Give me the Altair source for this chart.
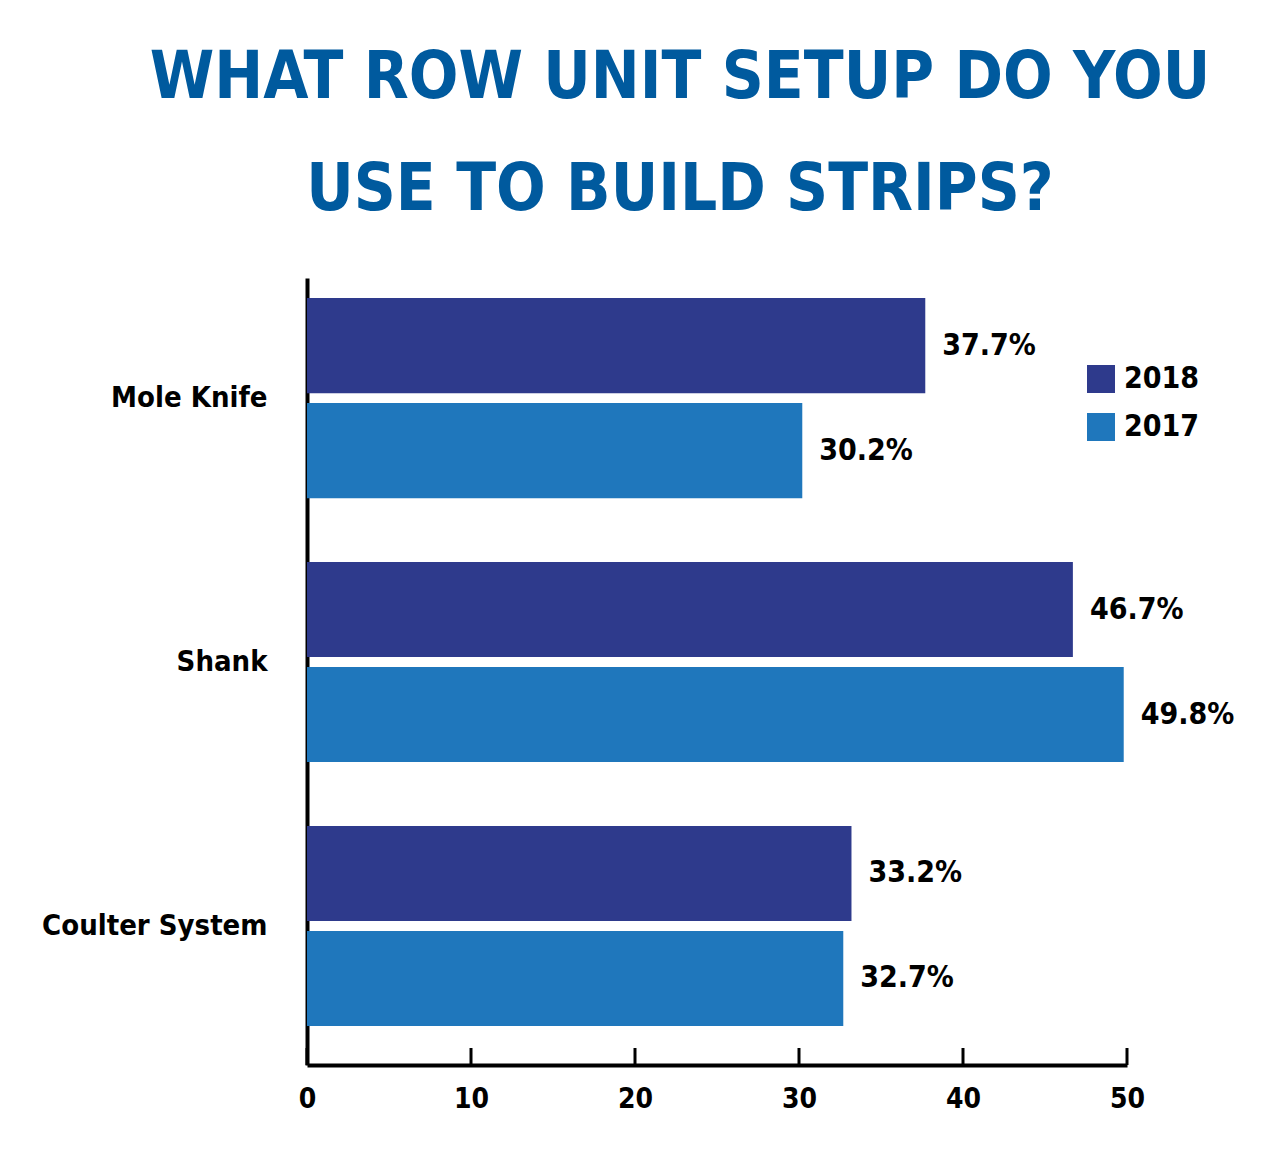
import altair as alt
import pandas as pd

# survey answers, percent of respondents
categories = ["Mole Knife", "Shank", "Coulter System"]
years = ["2018", "2017"]
share_2018 = [37.7, 46.7, 33.2]
share_2017 = [30.2, 49.8, 32.7]
x_ticks = [0, 10, 20, 30, 40, 50]

FONT = "Liberation Sans Narrow, DejaVu Sans Condensed, Arial Narrow, sans-serif"
COLORS = ["#2e3a8c", "#1f77bc"]
W, H = 820, 787

rows = []
for cat, a, b in zip(categories, share_2018, share_2017):
    rows.append({"category": cat, "year": "2018", "share": a, "label": f"{a:.1f}%"})
    rows.append({"category": cat, "year": "2017", "share": b, "label": f"{b:.1f}%"})
df = pd.DataFrame(rows)
ticks_df = pd.DataFrame({"tick": x_ticks})

x_scale = alt.Scale(domain=[0, 50], nice=False, zero=True)

y_enc = alt.Y(
    "category:N",
    sort=categories,
    scale=alt.Scale(paddingInner=0.242, paddingOuter=0.112, align=0.34),
    axis=alt.Axis(
        title=None, ticks=False, domain=True, domainColor="black", domainWidth=4,
        labelPadding=40, labelLimit=0, labelFont=FONT, labelFontSize=29,
        labelFontWeight="bold", labelColor="black",
    ),
)
y_off = alt.YOffset("year:N", sort=years, scale=alt.Scale(paddingInner=0.095))

bars = alt.Chart(df).mark_bar().encode(
    x=alt.X(
        "share:Q",
        scale=x_scale,
        axis=alt.Axis(
            title=None, values=x_ticks, ticks=False, grid=False, domainColor="black",
            domainWidth=4, labelPadding=20, labelFlush=False, labelFont=FONT,
            labelFontSize=28, labelFontWeight="bold", labelColor="black",
        ),
    ),
    y=y_enc,
    yOffset=y_off,
    color=alt.Color(
        "year:N",
        scale=alt.Scale(domain=years, range=COLORS),
        legend=alt.Legend(
            title=None, orient="none", legendX=779, legendY=86,
            symbolType="square", symbolSize=784, symbolStrokeWidth=0,
            symbolOpacity=1, labelFont=FONT, labelFontSize=30,
            labelFontWeight="bold", labelColor="black", labelOffset=8,
            rowPadding=18,
        ),
    ),
)

labels = alt.Chart(df).mark_text(
    align="left", baseline="middle", dx=17, font=FONT, fontSize=30,
    fontWeight="bold", color="black",
).encode(
    x=alt.X("share:Q", scale=x_scale),
    y=alt.Y("category:N", sort=categories),
    yOffset=y_off,
    text="label:N",
)

# ticks point up into the plot, so draw them as short rules
tick_marks = alt.Chart(ticks_df).mark_rule(color="black", strokeWidth=3).encode(
    x=alt.X("tick:Q", scale=x_scale),
    y=alt.value(H - 17),
    y2=alt.value(H),
)

chart = alt.layer(bars, labels, tick_marks).properties(
    width=W,
    height=H,
    background="white",
    title=alt.TitleParams(
        ["WHAT ROW UNIT SETUP DO YOU", "USE TO BUILD STRIPS?"],
        font=FONT, fontSize=65, fontWeight="bold", color="#005a9e",
        lineHeight=112, anchor="middle", frame="group", dx=-37, dy=63,
        baseline="alphabetic", offset=66,
    ),
    autosize=alt.AutoSizeParams(type="none"),
    padding={"left": 299, "top": 270, "right": 130, "bottom": 79},
).configure_view(stroke=None, strokeWidth=0)

chart.save("out.html", embed_options={"renderer": "svg", "actions": False})
